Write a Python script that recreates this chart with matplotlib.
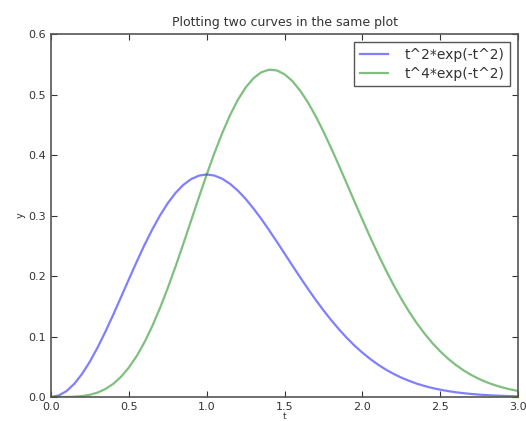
import numpy as np
import matplotlib
matplotlib.use("Agg")
import matplotlib.pyplot as plt

t_values = np.arange(0, 61) * 0.05
curve1 = [0.0000, 0.0025, 0.0099, 0.0220, 0.0384, 0.0587, 0.0823, 0.1084, 0.1363, 0.1654,
          0.1947, 0.2235, 0.2512, 0.2769, 0.3002, 0.3205, 0.3375, 0.3508, 0.3603, 0.3660,
          0.3679, 0.3661, 0.3608, 0.3524, 0.3412, 0.3275, 0.3118, 0.2946, 0.2761, 0.2568,
          0.2372, 0.2174, 0.1979, 0.1789, 0.1606, 0.1432, 0.1269, 0.1117, 0.0977, 0.0848,
          0.0733, 0.0629, 0.0536, 0.0454, 0.0383, 0.0320, 0.0267, 0.0220, 0.0181, 0.0148,
          0.0121, 0.0098, 0.0078, 0.0063, 0.0050, 0.0039, 0.0031, 0.0024, 0.0019, 0.0014,
          0.0011]
curve2 = [0.0000, 0.0000, 0.0001, 0.0005, 0.0015, 0.0037, 0.0074, 0.0133, 0.0218, 0.0335,
          0.0487, 0.0676, 0.0904, 0.1170, 0.1471, 0.1803, 0.2160, 0.2535, 0.2919, 0.3303,
          0.3679, 0.4036, 0.4366, 0.4661, 0.4913, 0.5117, 0.5270, 0.5368, 0.5411, 0.5400,
          0.5336, 0.5224, 0.5066, 0.4871, 0.4642, 0.4387, 0.4111, 0.3822, 0.3525, 0.3226,
          0.2931, 0.2642, 0.2365, 0.2101, 0.1853, 0.1622, 0.1410, 0.1217, 0.1045, 0.0890,
          0.0754, 0.0634, 0.0530, 0.0440, 0.0363, 0.0297, 0.0242, 0.0196, 0.0158, 0.0126,
          0.0100]
labels = ["t^2*exp(-t^2)", "t^4*exp(-t^2)"]

fig = plt.figure(figsize=(5.26, 4.21), dpi=100)
ax = fig.add_axes([0.097, 0.057, 0.888, 0.862])

ax.plot(t_values, curve1, color="#0000ff", alpha=0.5, lw=1.6, label=labels[0])
ax.plot(t_values, curve2, color="#008000", alpha=0.5, lw=1.6, label=labels[1])

ax.set_xlim(0, 3.0)
ax.set_ylim(0, 0.6)
ax.set_xticks(np.arange(0, 3.01, 0.5))
ax.set_yticks(np.arange(0, 0.61, 0.1))
ax.tick_params(direction="in", length=4, width=0.8, labelsize=8,
               colors="#333333", top=True, right=True)
for spine in ax.spines.values():
    spine.set_color("#555555")
    spine.set_linewidth(1.2)

ax.set_title("Plotting two curves in the same plot", fontsize=9, color="#333333", pad=6)
ax.set_xlabel("t", fontsize=6.5, labelpad=0, color="#333333")
ax.set_ylabel("y", fontsize=7, labelpad=2, color="#333333")
leg = ax.legend(loc="upper right", fontsize=10, fancybox=False, framealpha=1,
                handlelength=2.0, borderpad=0.4, labelspacing=0.35, handletextpad=1.2,
                borderaxespad=0.6)
leg.get_frame().set_edgecolor("#555555")
leg.get_frame().set_linewidth(1.0)
for txt in leg.get_texts():
    txt.set_color("#333333")

fig.savefig("out.png", dpi=100)
